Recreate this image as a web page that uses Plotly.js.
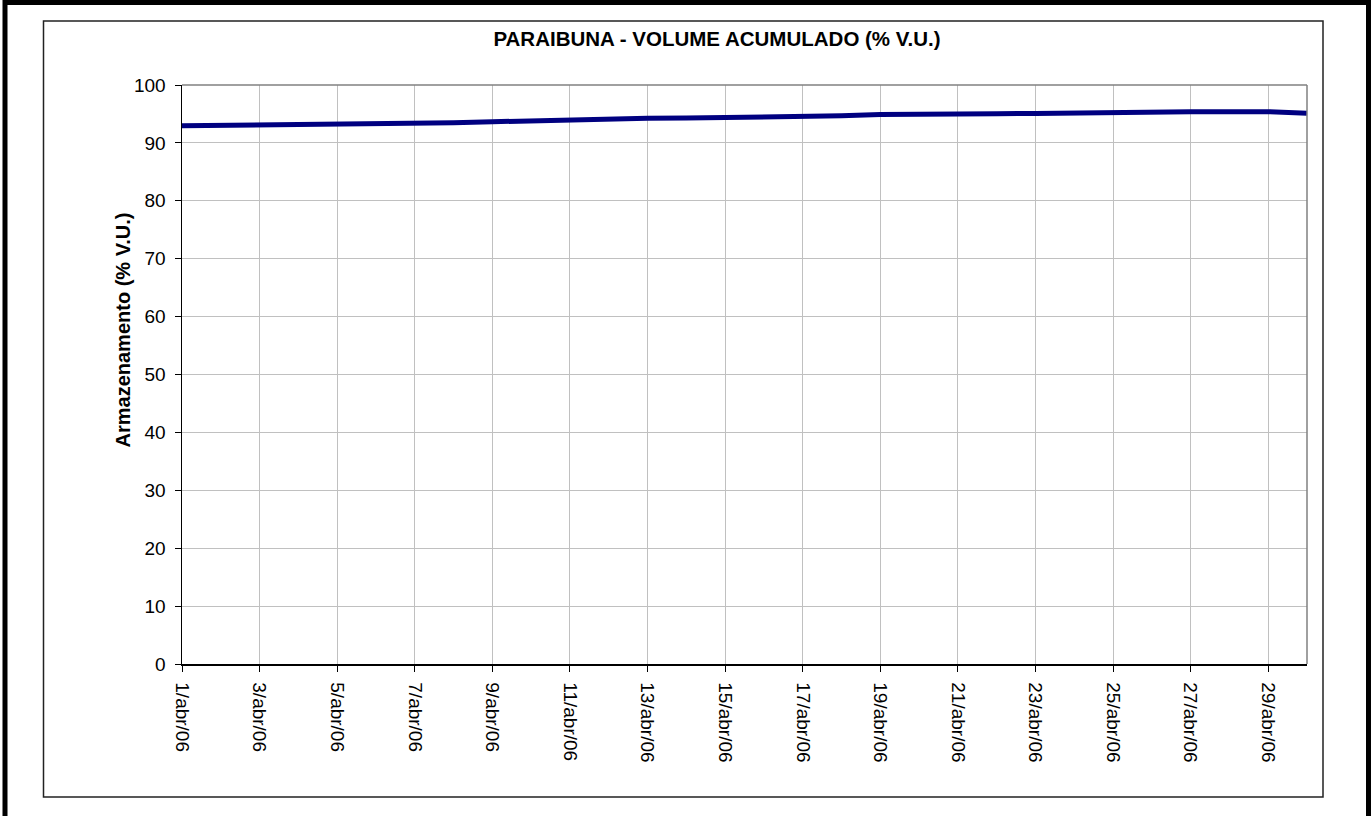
<!DOCTYPE html>
<html>
<head>
<meta charset="utf-8">
<script src="https://cdn.plot.ly/plotly-3.0.1.min.js"></script>
<style>
  html, body { margin: 0; padding: 0; background: #fff; }
  #chart { width: 1372px; height: 816px; }
</style>
</head>
<body>
<div id="chart"></div>
<script>
// ---- data ----
const dates = [
  '2006-04-01','2006-04-02','2006-04-03','2006-04-04','2006-04-05','2006-04-06',
  '2006-04-07','2006-04-08','2006-04-09','2006-04-10','2006-04-11','2006-04-12',
  '2006-04-13','2006-04-14','2006-04-15','2006-04-16','2006-04-17','2006-04-18',
  '2006-04-19','2006-04-20','2006-04-21','2006-04-22','2006-04-23','2006-04-24',
  '2006-04-25','2006-04-26','2006-04-27','2006-04-28','2006-04-29','2006-04-30'
];
const volumePct = [
  92.95, 93.00, 93.05, 93.15, 93.25, 93.30,
  93.38, 93.50, 93.65, 93.85, 94.00, 94.12,
  94.25, 94.30, 94.35, 94.40, 94.47, 94.68,
  94.90, 95.02, 95.05, 95.05, 95.07, 95.18,
  95.30, 95.38, 95.40, 95.40, 95.40, 95.10
];
const tickDates = [
  '2006-04-01','2006-04-03','2006-04-05','2006-04-07','2006-04-09','2006-04-11',
  '2006-04-13','2006-04-15','2006-04-17','2006-04-19','2006-04-21','2006-04-23',
  '2006-04-25','2006-04-27','2006-04-29'
];
const tickLabels = [
  '1/abr/06','3/abr/06','5/abr/06','7/abr/06','9/abr/06','11/abr/06',
  '13/abr/06','15/abr/06','17/abr/06','19/abr/06','21/abr/06','23/abr/06',
  '25/abr/06','27/abr/06','29/abr/06'
];
const chartTitle = 'PARAIBUNA - VOLUME ACUMULADO (% V.U.)';
const yTitle = 'Armazenamento (% V.U.)';

// ---- layout geometry ----
const W = 1372, H = 816;
const M = { l: 182, r: 65, t: 85, b: 152 };
const PW = W - M.l - M.r, PH = H - M.t - M.b;
const px = x => (x - M.l) / PW;
const py = y => (H - M.b - y) / PH;

const FONT = 'Liberation Sans, Arial, Helvetica, sans-serif';

const trace = {
  x: dates,
  y: volumePct,
  type: 'scatter',
  mode: 'lines',
  line: { color: '#000080', width: 5 },
  hoverinfo: 'x+y'
};

const layout = {
  width: W, height: H,
  margin: M,
  paper_bgcolor: '#ffffff',
  plot_bgcolor: '#ffffff',
  showlegend: false,
  font: { family: FONT, size: 19, color: '#000' },
  title: {
    text: '<b>' + chartTitle + '</b>',
    font: { family: FONT, size: 20.5, color: '#000' },
    xref: 'container', x: 717 / W, xanchor: 'center',
    yref: 'container', y: 1 - 38.5 / H, yanchor: 'middle'
  },
  xaxis: {
    type: 'date',
    range: ['2006-04-01', '2006-04-30'],
    tickmode: 'array',
    tickvals: tickDates,
    ticktext: tickLabels,
    tickangle: 90,
    ticks: 'outside', ticklen: 6, tickwidth: 1, tickcolor: '#000',
    ticklabelstandoff: 7,
    showline: true, linecolor: '#000', linewidth: 1.5,
    showgrid: true, gridcolor: '#c0c0c0', gridwidth: 1,
    zeroline: false,
    tickfont: { family: FONT, size: 19, color: '#000' }
  },
  yaxis: {
    range: [0, 100],
    dtick: 10, tick0: 0,
    ticks: 'outside', ticklen: 6, tickwidth: 1, tickcolor: '#000',
    ticklabelstandoff: 5,
    showline: true, linecolor: '#000', linewidth: 1.5,
    showgrid: true, gridcolor: '#c0c0c0', gridwidth: 1,
    zeroline: false,
    tickfont: { family: FONT, size: 19, color: '#000' }
  },
  annotations: [
    { text: '<b>' + yTitle + '</b>', textangle: -90,
      xref: 'paper', yref: 'paper', x: px(122.5), y: py(330),
      xanchor: 'center', yanchor: 'middle', showarrow: false,
      font: { family: FONT, size: 20, color: '#000' } }
  ],
  shapes: [
    // outer thick frame
    { type: 'rect', xref: 'paper', yref: 'paper',
      x0: px(5), x1: px(1368.5), y0: py(2.5), y1: py(840),
      line: { color: '#000', width: 5 }, layer: 'above' },
    // inner chart-area frame
    { type: 'rect', xref: 'paper', yref: 'paper',
      x0: px(43.5), x1: px(1323), y0: py(21), y1: py(797),
      line: { color: '#222', width: 1.5 }, layer: 'above' },
    // plot-area border top & right (gray)
    { type: 'line', xref: 'paper', yref: 'paper',
      x0: 0, x1: 1, y0: 1, y1: 1, line: { color: '#808080', width: 1.5 } },
    { type: 'line', xref: 'paper', yref: 'paper',
      x0: 1, x1: 1, y0: 0, y1: 1, line: { color: '#808080', width: 1.5 } }
  ]
};

Plotly.newPlot('chart', [trace], layout, { displayModeBar: false, staticPlot: true });
</script>
</body>
</html>
